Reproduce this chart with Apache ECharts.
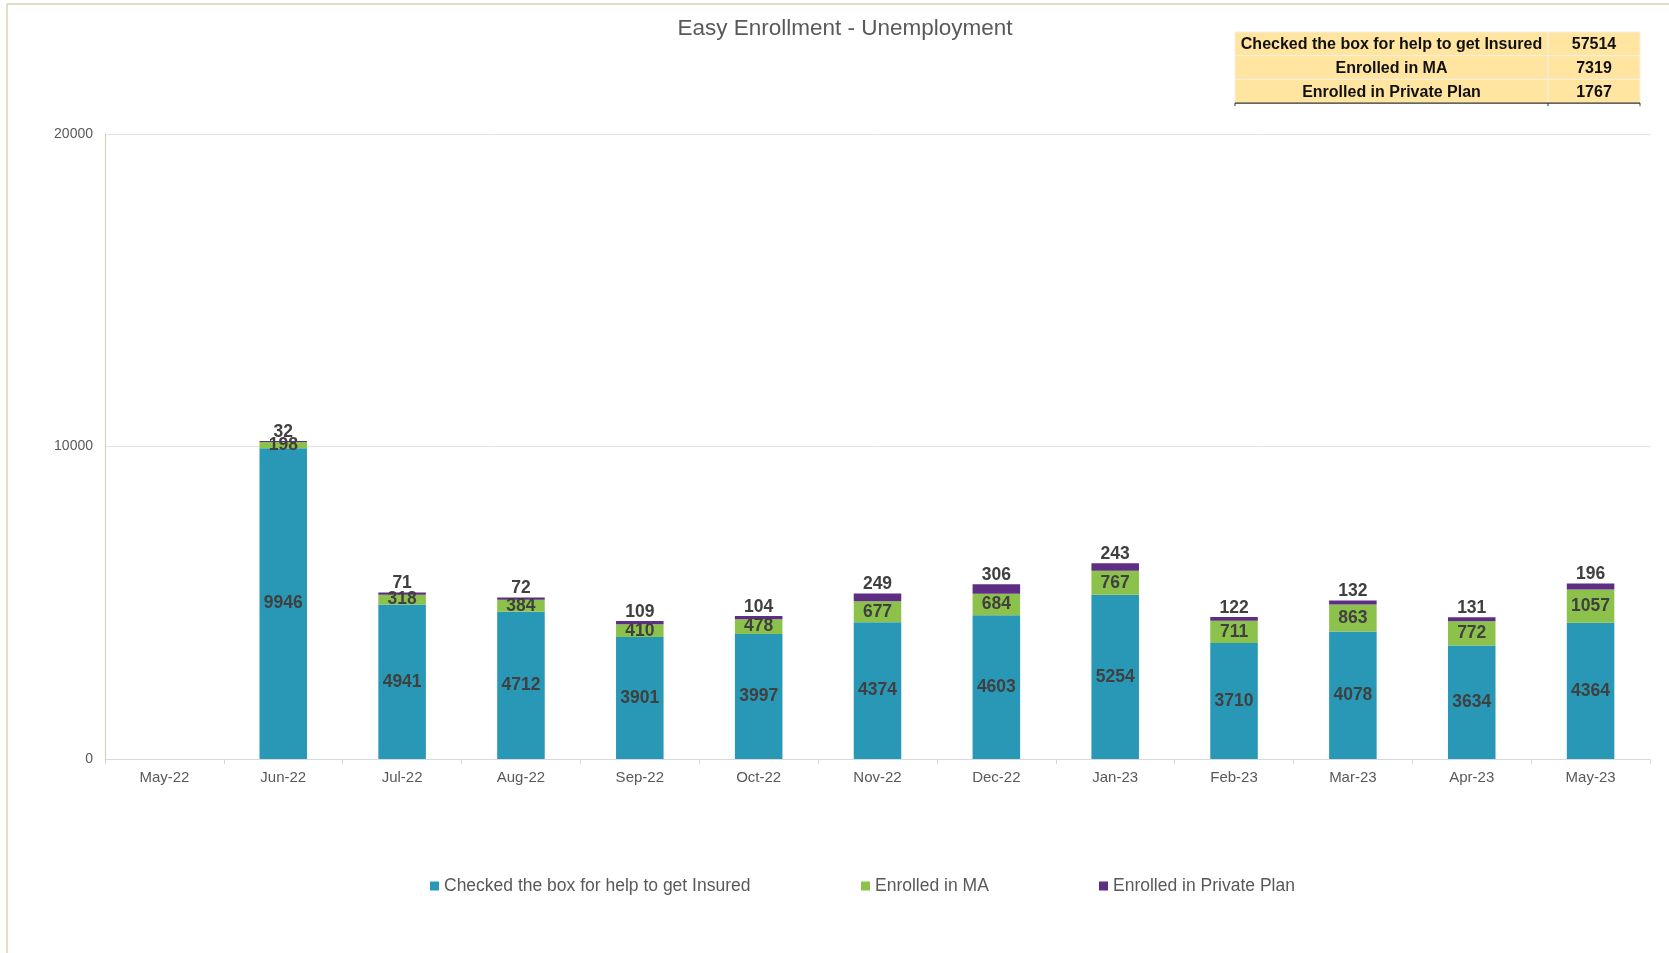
<!DOCTYPE html>
<html>
<head>
<meta charset="utf-8">
<script src="https://cdn.jsdelivr.net/npm/echarts@6/dist/echarts.min.js"></script>
<style>
html,body{margin:0;padding:0;background:#fff;}
#chart{width:1669px;height:953px;}
</style>
</head>
<body>
<div id="chart"></div>
<script>
const categories = ['May-22','Jun-22','Jul-22','Aug-22','Sep-22','Oct-22','Nov-22','Dec-22','Jan-23','Feb-23','Mar-23','Apr-23','May-23'];
const checkedBox = [null,9946,4941,4712,3901,3997,4374,4603,5254,3710,4078,3634,4364];
const enrolledMA = [null,198,318,384,410,478,677,684,767,711,863,772,1057];
const enrolledPrivate = [null,32,71,72,109,104,249,306,243,122,132,131,196];
const seriesNames = ['Checked the box for help to get Insured','Enrolled in MA','Enrolled in Private Plan'];
const tableTotals = [57514, 7319, 1767];
const yTicks = [0, 10000, 20000];

const colors = ['#2998B6', '#8CC24B', '#5E2D84'];
const FONT = '"Liberation Sans", Arial, sans-serif';

const labelStyle = {
  show: true, fontFamily: FONT, fontWeight: 'bold', fontSize: 17.5, color: '#404040',
  formatter: p => (p.value == null ? '' : p.value)
};

// table graphic
const tX = 1235, tY = 32, rowH = 23.7, col1W = 313, col2W = 92;
const tableEls = [];
seriesNames.forEach((n, i) => {
  const y = tY + i * rowH;
  tableEls.push({type:'rect', shape:{x:tX, y:y, width:col1W, height:rowH}, style:{fill:'#FFE5A0', stroke:'#F4EFE2', lineWidth:1}});
  tableEls.push({type:'rect', shape:{x:tX+col1W, y:y, width:col2W, height:rowH}, style:{fill:'#FFE5A0', stroke:'#F4EFE2', lineWidth:1}});
  tableEls.push({type:'text', x:tX+col1W/2, y:y+rowH/2+1, style:{text:n, font:'bold 16px ' + FONT, fill:'#111', align:'center', verticalAlign:'middle'}});
  tableEls.push({type:'text', x:tX+col1W+col2W/2, y:y+rowH/2+1, style:{text:String(tableTotals[i]), font:'bold 16px ' + FONT, fill:'#111', align:'center', verticalAlign:'middle'}});
});
const tB = tY + 3*rowH;
tableEls.push({type:'line', shape:{x1:tX, y1:tB, x2:tX+col1W+col2W, y2:tB}, style:{stroke:'#333', lineWidth:1.2}});
[tX, tX+col1W, tX+col1W+col2W].forEach(x => {
  tableEls.push({type:'line', shape:{x1:x, y1:tB, x2:x, y2:tB+3}, style:{stroke:'#333', lineWidth:1}});
});

const legendLefts = [425, 856, 1094];

const option = {
  backgroundColor: '#fff',
  animation: false,
  title: {
    text: 'Easy Enrollment - Unemployment',
    left: 840, top: 12, textAlign: 'center',
    textStyle: {fontFamily: FONT, fontWeight: 'normal', fontSize: 22.5, color: '#595959'}
  },
  legend: seriesNames.map((n, i) => ({
    data: [n], left: legendLefts[i], top: 872, icon: 'rect', itemWidth: 9, itemHeight: 9, itemGap: 6,
    textStyle: {fontFamily: FONT, fontSize: 17.5, color: '#595959'}
  })),
  grid: {left: 105, right: 19, top: 134, bottom: 194, containLabel: false},
  xAxis: {
    type: 'category', data: categories,
    axisLine: {lineStyle: {color: '#D9D9D9', width: 1}},
    axisTick: {show: true, length: 5, lineStyle: {color: '#D9D9D9'}},
    axisLabel: {fontFamily: FONT, fontSize: 15, color: '#595959', margin: 11}
  },
  yAxis: {
    type: 'value', min: yTicks[0], max: yTicks[yTicks.length-1], interval: 10000,
    axisLine: {show: true, lineStyle: {color: '#D6CFAA', width: 1}},
    axisTick: {show: false},
    axisLabel: {fontFamily: FONT, fontSize: 14, color: '#595959', margin: 12, formatter: v => String(v)},
    splitLine: {lineStyle: {color: '#E3E3E3', width: 1}}
  },
  series: [
    {name: seriesNames[0], type: 'bar', stack: 'a', data: checkedBox, barWidth: '40%', itemStyle: {color: colors[0]},
     label: Object.assign({}, labelStyle, {position: 'inside'})},
    {name: seriesNames[1], type: 'bar', stack: 'a', data: enrolledMA, itemStyle: {color: colors[1]},
     label: Object.assign({}, labelStyle, {position: 'inside'})},
    {name: seriesNames[2], type: 'bar', stack: 'a', data: enrolledPrivate, itemStyle: {color: colors[2]},
     label: Object.assign({}, labelStyle, {position: 'top', distance: 0})}
  ],
  graphic: [
    {type: 'line', shape: {x1: 7, y1: 4, x2: 1669, y2: 4}, style: {stroke: '#D8D2B2', lineWidth: 1.5}},
    {type: 'line', shape: {x1: 7, y1: 4, x2: 7, y2: 953}, style: {stroke: '#D8D2B2', lineWidth: 1.5}}
  ].concat(tableEls)
};

const chart = echarts.init(document.getElementById('chart'), null, {renderer: 'canvas'});
chart.setOption(option);
</script>
</body>
</html>
